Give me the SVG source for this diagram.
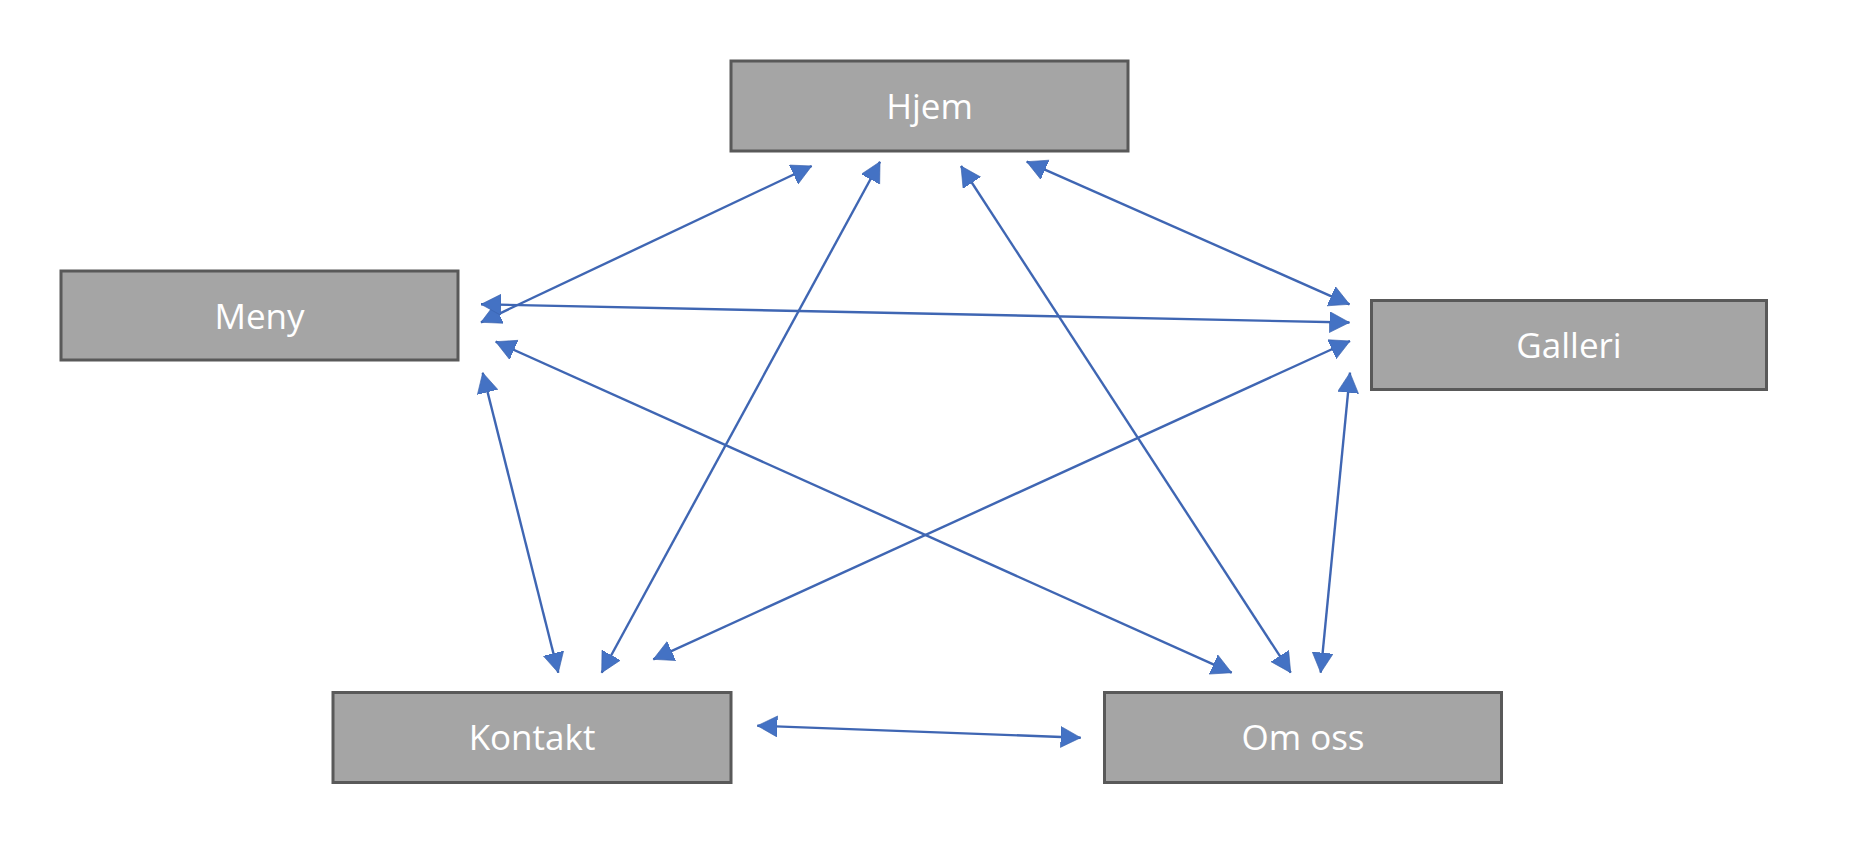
<svg xmlns="http://www.w3.org/2000/svg" width="1876" height="854" viewBox="0 0 1876 854">
<style>
.box{fill:#A5A5A5;stroke:#595959;stroke-width:3}
.lbl{fill:#FFFFFF;font-family:"Open Sans","Liberation Sans",sans-serif;font-size:35px;text-anchor:middle}
.c{stroke:#3F66B3;stroke-width:2.4;fill:none;marker-start:url(#ah);marker-end:url(#ah)}
</style>
<defs>
<marker id="ah" markerUnits="userSpaceOnUse" markerWidth="21" markerHeight="22" refX="20" refY="10.5" orient="auto-start-reverse" viewBox="0 0 21 22">
<path d="M0,0 L20,10.5 L0,21 Z" fill="#4472C4" stroke="#3A62AC" stroke-width="0.6"/>
</marker>
</defs>
<rect width="1876" height="854" fill="#FFFFFF"/>
<g id="connectors">
<line class="c" x1="481" y1="322.3" x2="811.7" y2="166"/>
<line class="c" x1="481" y1="304.3" x2="1349.5" y2="322.5"/>
<line class="c" x1="495.7" y1="341.7" x2="1231.7" y2="672.7"/>
<line class="c" x1="482.7" y1="372.7" x2="558.3" y2="672.7"/>
<line class="c" x1="601.7" y1="672.7" x2="880" y2="161.7"/>
<line class="c" x1="653.3" y1="659.3" x2="1350" y2="341"/>
<line class="c" x1="757.3" y1="725.7" x2="1080.7" y2="737.7"/>
<line class="c" x1="961" y1="166" x2="1290.7" y2="672.7"/>
<line class="c" x1="1026.7" y1="161.7" x2="1349.5" y2="304.3"/>
<line class="c" x1="1350" y1="372.7" x2="1320.7" y2="672.7"/>
</g>
<g id="hjem">
<rect class="box" x="731" y="61" width="397" height="90"/>
<text class="lbl" x="929.5" y="119">Hjem</text>
</g>
<g id="meny">
<rect class="box" x="61" y="271" width="397" height="89"/>
<text class="lbl" x="259.5" y="329">Meny</text>
</g>
<g id="galleri">
<rect class="box" x="1371.5" y="300.5" width="395" height="89"/>
<text class="lbl" x="1569" y="358">Galleri</text>
</g>
<g id="kontakt">
<rect class="box" x="333" y="692.5" width="398" height="90"/>
<text class="lbl" x="532" y="750">Kontakt</text>
</g>
<g id="om-oss">
<rect class="box" x="1104.5" y="692.5" width="397" height="90"/>
<text class="lbl" x="1303" y="750">Om oss</text>
</g>
</svg>
